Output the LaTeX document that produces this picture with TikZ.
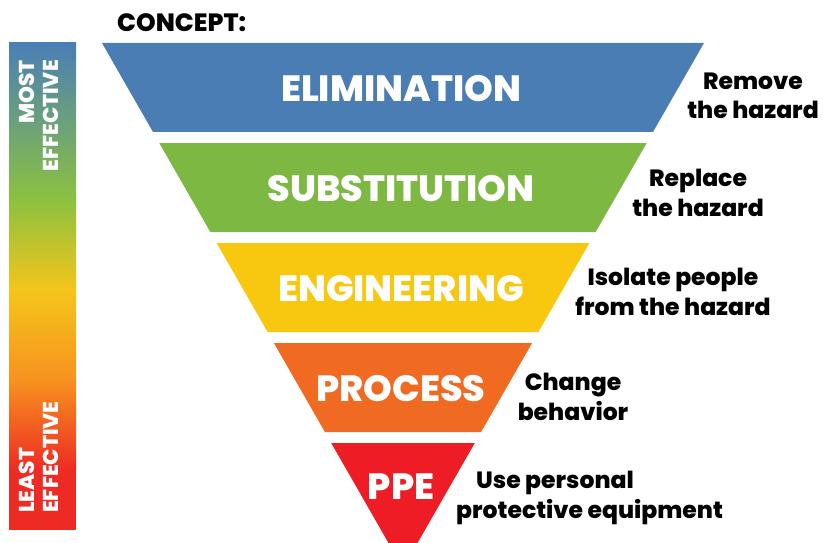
\documentclass[tikz,border=0pt]{standalone}
\usepackage{fontspec}
\setmainfont{Poppins}[BoldFont={Poppins ExtraBold}]
\definecolor{cblue}{HTML}{4A7DB3}
\definecolor{cgreen}{HTML}{7DB843}
\definecolor{cyellow}{HTML}{F8C70F}
\definecolor{corange}{HTML}{F06A22}
\definecolor{cred}{HTML}{EE1D25}
\definecolor{gblue}{HTML}{4A7FB6}
\definecolor{ggreen}{HTML}{8CC23F}
\definecolor{gyellow}{HTML}{F4C51A}
\definecolor{gorange}{HTML}{F7921E}
\definecolor{gred}{HTML}{EE2A24}
\begin{document}
\begin{tikzpicture}[x=1pt,y=-1pt,
  bandlabel/.style={text=white,font=\fontsize{36.5}{40}\selectfont\bfseries,inner sep=0pt},
  sidelabel/.style={text=black,font=\fontsize{23.5}{29.5}\selectfont\bfseries,align=center,inner sep=0pt},
  barlabel/.style={text=white,font=\fontsize{21.5}{23.5}\selectfont\bfseries,rotate=90,inner sep=0pt}]
\useasboundingbox (0,0) rectangle (823,543);
\begin{scope}
\clip (0,0) rectangle (823,543);
% left gradient bar
\shade[top color=gblue,bottom color=ggreen] (9,43) rectangle (76,200.5);
\shade[top color=ggreen,bottom color=gyellow] (9,200) rectangle (76,290.5);
\shade[top color=gyellow,bottom color=gorange] (9,290) rectangle (76,380.5);
\shade[top color=gorange,bottom color=gred] (9,380) rectangle (76,470.5);
\fill[gred] (9,470) rectangle (76,530);
% bands
\fill[cblue]   (102,43) -- (704,43) -- (653,132) -- (153,132) -- cycle;
\fill[cgreen]  (159.3,143) -- (646.7,143) -- (595.7,232) -- (210.3,232) -- cycle;
\fill[cyellow] (216.6,243) -- (589.4,243) -- (538.4,332) -- (267.6,332) -- cycle;
\fill[corange] (273.9,343) -- (532.1,343) -- (481.1,432) -- (324.9,432) -- cycle;
\fill[cred]    (331.2,443) -- (474.8,443) -- (403,568.3) -- cycle;
\end{scope}
% band labels
\node[bandlabel] (elim) at (401,89) {ELIMINATION};
\node[bandlabel] (subs) at (401,189) {SUBSTITUTION};
\node[bandlabel] (engi) at (401,289) {ENGINEERING};
\node[bandlabel] (proc) at (401,389) {PROCESS};
\node[bandlabel] (ppe)  at (401,487) {PPE};
% side labels
\node[sidelabel] (remove) at (753,96) {Remove\\the hazard};
\node[sidelabel] (replace) at (698,193) {Replace\\the hazard};
\node[sidelabel] (isolate) at (673,292) {Isolate people\\from the hazard};
\node[sidelabel] (change) at (573,397) {Change\\behavior};
\node[sidelabel,align=left,anchor=west] (use) at (456,498) {\hspace*{20pt}Use personal\\protective equipment};
% title
\node[text=black,font=\fontsize{25}{28}\selectfont\bfseries,anchor=west,inner sep=0pt] (concept) at (117,23) {CONCEPT:};
% bar labels
\node[barlabel,align=right,anchor=north east] (most) at (19,60) {MOST\\EFFECTIVE};
\node[barlabel,align=left,anchor=north west] (least) at (19,513) {LEAST\\EFFECTIVE};
\end{tikzpicture}
\end{document}
